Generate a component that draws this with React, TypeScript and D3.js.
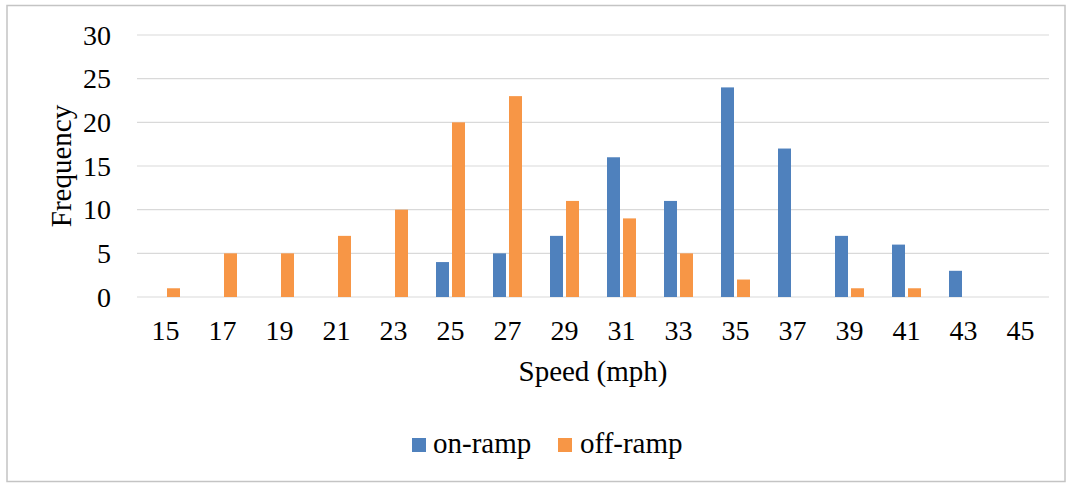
import React from 'react'
import * as d3 from 'd3'

const speeds = ['15', '17', '19', '21', '23', '25', '27', '29', '31', '33', '35', '37', '39', '41', '43', '45']
const onRamp = [0, 0, 0, 0, 0, 4, 5, 7, 16, 11, 24, 17, 7, 6, 3, 0]
const offRamp = [1, 5, 5, 7, 10, 20, 23, 11, 9, 5, 2, 0, 1, 1, 0, 0]
const seriesNames = ['on-ramp', 'off-ramp']
const yTicks = [0, 5, 10, 15, 20, 25, 30]

const colors = ['#4F81BD', '#F79646']
const font = '"Liberation Serif", "Times New Roman", serif'

const App = () => {
	const width = 1073
	const height = 484
	const plot = {left: 137, right: 1049, top: 35, bottom: 297}

	const x = d3.scaleBand<string>()
		.domain(speeds)
		.range([plot.left, plot.right])
		.padding(0)

	const groupW = 29
	const xInner = d3.scaleBand<string>()
		.domain(seriesNames)
		.range([0, groupW])
		.paddingInner(3 / 16)
		.paddingOuter(0)

	const y = d3.scaleLinear()
		.domain([0, 30])
		.range([plot.bottom, plot.top])

	const series = [onRamp, offRamp]

	return (
		<svg width={width} height={height} style={{position: 'absolute', left: 0, top: 0}} fontFamily={font}>
			<rect x={0} y={0} width={width} height={height} fill="#fff"/>
			{/* chart border */}
			<rect x={7} y={5.5} width={1058} height={476} fill="none" stroke="#c4c4c4" strokeWidth={1.5}/>

			{/* gridlines */}
			{yTicks.map(t => (
				<line key={'g' + t} x1={plot.left} x2={plot.right} y1={y(t)} y2={y(t)} stroke="#d9d9d9" strokeWidth={1.2}/>
			))}

			{/* y tick labels */}
			{yTicks.map(t => (
				<text key={'yl' + t} x={111} y={y(t)} dy="0.35em" textAnchor="end" fontSize={28} fill="#000">{t}</text>
			))}

			{/* bars */}
			{series.map((vals, si) => vals.map((v, i) => v > 0 ? (
				<rect
					key={`b${si}-${i}`}
					x={(x(speeds[i]) as number) + (x.bandwidth() - groupW) / 2 + (xInner(seriesNames[si]) as number)}
					y={y(v)}
					width={xInner.bandwidth()}
					height={y(0) - y(v)}
					fill={colors[si]}
				/>
			) : null))}

			{/* x tick labels */}
			{speeds.map(s => (
				<text key={'xl' + s} x={(x(s) as number) + x.bandwidth() / 2} y={340} textAnchor="middle" fontSize={28} fill="#000">{s}</text>
			))}

			{/* axis titles */}
			<text x={(plot.left + plot.right) / 2} y={381} textAnchor="middle" fontSize={29} fill="#000">Speed (mph)</text>
			<text transform={`translate(71,${(plot.top + plot.bottom) / 2}) rotate(-90)`} textAnchor="middle" fontSize={29} fill="#000">Frequency</text>

			{/* legend */}
			<rect x={412} y={438} width={14} height={14} fill={colors[0]}/>
			<text x={433} y={453} fontSize={29} fill="#000">{seriesNames[0]}</text>
			<rect x={558} y={438} width={14} height={14} fill={colors[1]}/>
			<text x={580} y={453} fontSize={29} fill="#000">{seriesNames[1]}</text>
		</svg>
	)
}

export default App
